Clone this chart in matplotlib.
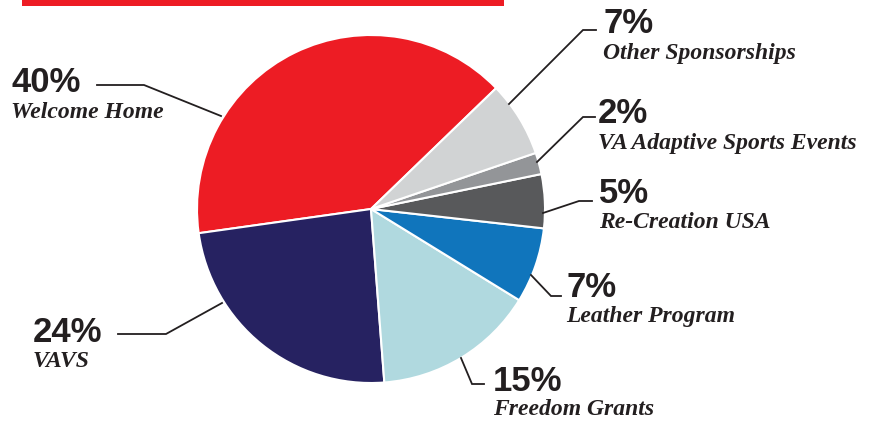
import matplotlib
matplotlib.use('Agg')
import matplotlib.pyplot as plt
from matplotlib.patches import Rectangle

# data (counterclockwise from upper right)
labels = ['Welcome Home', 'VAVS', 'Freedom Grants', 'Leather Program',
          'Re-Creation USA', 'VA Adaptive Sports Events', 'Other Sponsorships']
values = [40, 24, 15, 7, 5, 2, 7]
colors = ['#ED1C24', '#262261', '#B0D9DF', '#1075BC', '#58595B', '#939598', '#D1D3D4']

W, H = 871, 421
ink = '#231F20'

fig = plt.figure(figsize=(W / 100, H / 100), dpi=100)
ax = fig.add_axes([0, 0, 1, 1])

def Y(p):
    # pixel row -> data y
    return H - p

ax.pie(values, colors=colors, startangle=44, counterclock=True,
       center=(371, Y(209)), radius=174,
       wedgeprops=dict(edgecolor='white', linewidth=1.5))

ax.set_xlim(0, W)
ax.set_ylim(0, H)
ax.set_aspect('equal')
ax.axis('off')

# red header bar
ax.add_patch(Rectangle((22, Y(6)), 482, 8, color='#ED1C24', lw=0))

# label layout: (x, pct baseline, name baseline, leader polyline in pixels)
layout = {
    'Welcome Home': (11, 92, 118, [(97, 85), (144, 85), (221, 116)]),
    'VAVS': (33, 342, 367, [(118, 334), (166, 334), (222, 303)]),
    'Freedom Grants': (493, 391, 415, [(484, 384), (472, 384), (461, 358)]),
    'Leather Program': (566, 297, 322, [(561, 296), (551, 296), (531, 275)]),
    'Re-Creation USA': (599, 203, 228, [(592, 201), (579, 201), (543, 213)]),
    'VA Adaptive Sports Events': (598, 123, 149, [(595, 117), (583, 117), (537, 162)]),
    'Other Sponsorships': (603, 33, 59, [(596, 30), (583, 30), (509, 104)]),
}

for lab, val in zip(labels, values):
    x, yb, yn, pts = layout[lab]
    ax.text(x, Y(yb), f'{val}%', family='Liberation Sans', weight='bold',
            fontsize=25, color=ink, va='baseline', ha='left')
    ax.text(x, Y(yn), lab, family='Liberation Serif', weight='bold',
            style='italic', fontsize=17, color=ink, va='baseline', ha='left')
    ax.plot([p[0] for p in pts], [Y(p[1]) for p in pts], color=ink, lw=1.3,
            solid_joinstyle='miter')

fig.savefig('out.png', dpi=100)
